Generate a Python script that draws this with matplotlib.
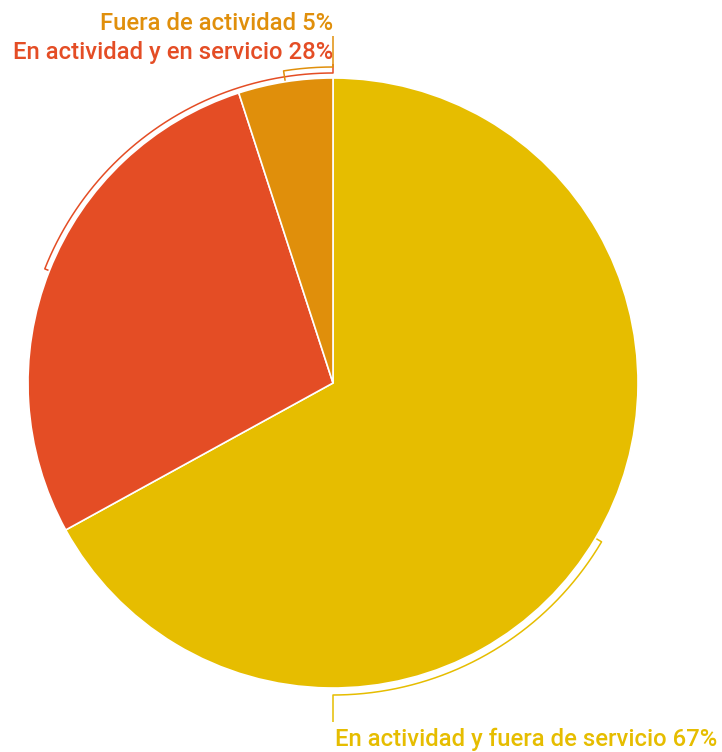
import numpy as np
import matplotlib
matplotlib.use("Agg")
import matplotlib.pyplot as plt

# slices, clockwise from 12 o'clock
labels = ["En actividad y fuera de servicio", "En actividad y en servicio", "Fuera de actividad"]
shares = [67, 28, 5]
colors = ["#E6BD00", "#E44D25", "#E08F0B"]

plt.rcParams["font.family"] = ["Roboto", "DejaVu Sans"]

W, H = 722, 752
cx, cy, r = 333, H - 383, 305

fig = plt.figure(figsize=(W / 100, H / 100), dpi=100)
ax = fig.add_axes([0, 0, 1, 1])
ax.pie(shares, colors=colors, startangle=90, counterclock=False,
       center=(cx, cy), radius=r,
       wedgeprops=dict(edgecolor="white", linewidth=1.2))
ax.set_xlim(0, W)
ax.set_ylim(0, H)
ax.set_aspect("auto")
ax.axis("off")


def pt(theta, R):
    t = np.radians(theta)
    return cx + R * np.sin(t), cy + R * np.cos(t)


# bracket arcs: from slice middle round to where the label hangs
frac = np.cumsum([0] + shares) / sum(shares) * 360
mids = (frac[:-1] + frac[1:]) / 2
arc_end = [180, 360, 360]
arc_r = [312, 310, 316]
lead_to = [H - 722, H - 64, H - 36]
for i in range(3):
    th = np.linspace(mids[i], arc_end[i], 200)
    xs, ys = pt(th, arc_r[i])
    x0, y0 = pt(mids[i], r + 1)
    xs = np.concatenate([[x0], xs, [xs[-1]]])
    ys = np.concatenate([[y0], ys, [lead_to[i]]])
    ax.plot(xs, ys, color=colors[i], lw=1.1, solid_capstyle="butt", zorder=3 + i)

fs = 17.2
ax.text(335, H - 739, f"{labels[0]} {shares[0]}%", color=colors[0],
        fontsize=fs, ha="left", va="center", fontweight="medium")
ax.text(333, H - 52, f"{labels[1]} {shares[1]}%", color=colors[1],
        fontsize=fs, ha="right", va="center", fontweight="medium")
ax.text(333, H - 24, f"{labels[2]} {shares[2]}%", color=colors[2],
        fontsize=fs, ha="right", va="center", fontweight="medium")

fig.savefig("out.png", dpi=100)
